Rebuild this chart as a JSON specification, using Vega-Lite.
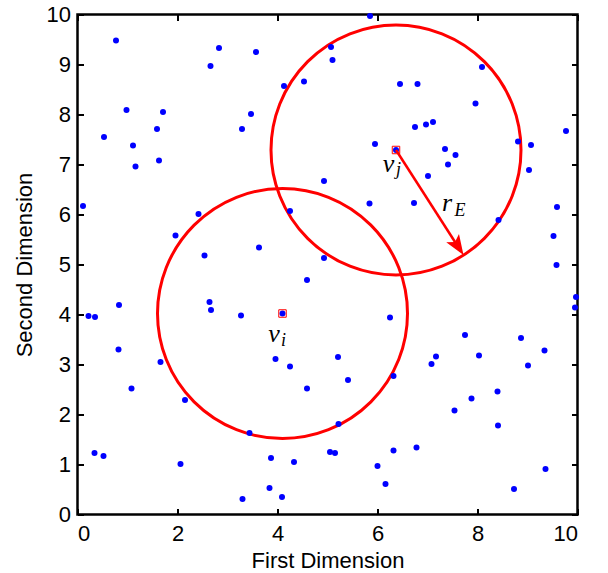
{
  "$schema": "https://vega.github.io/schema/vega-lite/v6.json",
  "width": 500,
  "height": 500,
  "autosize": {"type": "none"},
  "padding": {"left": 77.5, "top": 14.5, "right": 30.5, "bottom": 58.5},
  "background": "white",
  "config": {
    "view": {"stroke": "black", "strokeWidth": 2.5},
    "axis": {
      "domain": false,
      "grid": false,
      "ticks": true,
      "zindex": 2,
      "tickColor": "black",
      "tickOpacity": 1,
      "tickWidth": 2,
      "tickSize": 6,
      "offset": -6,
      "labelFont": "Liberation Sans",
      "labelFontSize": 22,
      "labelColor": "black",
      "titleFont": "Liberation Sans",
      "titleFontSize": 22,
      "titleFontWeight": "normal",
      "titleColor": "black"
    }
  },
  "datasets": {
    "dots": [
      {"x": 0.77, "y": 9.48}, {"x": 2.83, "y": 9.33}, {"x": 3.57, "y": 9.25}, {"x": 2.66, "y": 8.97},
      {"x": 4.13, "y": 8.57}, {"x": 4.53, "y": 8.66}, {"x": 0.98, "y": 8.09}, {"x": 1.71, "y": 8.05},
      {"x": 3.47, "y": 8.01}, {"x": 1.59, "y": 7.71}, {"x": 3.29, "y": 7.71}, {"x": 0.53, "y": 7.55},
      {"x": 1.11, "y": 7.38}, {"x": 1.63, "y": 7.08}, {"x": 1.16, "y": 6.96}, {"x": 0.11, "y": 6.17},
      {"x": 4.93, "y": 6.67}, {"x": 2.42, "y": 6.01}, {"x": 4.25, "y": 6.07}, {"x": 1.96, "y": 5.58},
      {"x": 2.54, "y": 5.18}, {"x": 3.63, "y": 5.34}, {"x": 4.93, "y": 5.13},
      {"x": 5.85, "y": 9.97}, {"x": 5.07, "y": 9.35}, {"x": 5.10, "y": 9.09}, {"x": 8.09, "y": 8.95},
      {"x": 6.45, "y": 8.61}, {"x": 6.80, "y": 8.61}, {"x": 7.96, "y": 8.22}, {"x": 6.75, "y": 7.75},
      {"x": 6.97, "y": 7.80}, {"x": 7.11, "y": 7.85}, {"x": 9.77, "y": 7.67}, {"x": 5.95, "y": 7.41},
      {"x": 6.37, "y": 7.29}, {"x": 7.35, "y": 7.31}, {"x": 7.56, "y": 7.19}, {"x": 7.41, "y": 7.00},
      {"x": 8.81, "y": 7.46}, {"x": 9.07, "y": 7.39}, {"x": 9.03, "y": 6.89}, {"x": 7.01, "y": 6.77},
      {"x": 5.84, "y": 6.22}, {"x": 6.73, "y": 6.23}, {"x": 9.59, "y": 6.15}, {"x": 8.42, "y": 5.89},
      {"x": 9.52, "y": 5.57},
      {"x": 4.59, "y": 4.69}, {"x": 2.64, "y": 4.25}, {"x": 2.67, "y": 4.09}, {"x": 0.83, "y": 4.19},
      {"x": 0.22, "y": 3.97}, {"x": 0.35, "y": 3.95}, {"x": 3.27, "y": 3.98}, {"x": 4.10, "y": 4.02},
      {"x": 0.82, "y": 3.30}, {"x": 1.66, "y": 3.05}, {"x": 3.96, "y": 3.11}, {"x": 4.25, "y": 2.96},
      {"x": 1.08, "y": 2.52}, {"x": 4.59, "y": 2.52}, {"x": 2.15, "y": 2.29}, {"x": 3.44, "y": 1.63},
      {"x": 0.34, "y": 1.23}, {"x": 0.52, "y": 1.17}, {"x": 2.06, "y": 1.01}, {"x": 3.87, "y": 1.13},
      {"x": 4.33, "y": 1.05}, {"x": 3.84, "y": 0.53}, {"x": 3.30, "y": 0.31}, {"x": 4.09, "y": 0.35},
      {"x": 9.58, "y": 4.99}, {"x": 9.97, "y": 4.35}, {"x": 9.95, "y": 4.14}, {"x": 6.25, "y": 3.94},
      {"x": 7.75, "y": 3.59}, {"x": 8.87, "y": 3.53}, {"x": 9.34, "y": 3.28}, {"x": 5.21, "y": 3.15},
      {"x": 7.17, "y": 3.16}, {"x": 8.03, "y": 3.18}, {"x": 7.08, "y": 3.01}, {"x": 9.01, "y": 2.98},
      {"x": 5.41, "y": 2.69}, {"x": 6.32, "y": 2.77}, {"x": 8.40, "y": 2.46}, {"x": 7.88, "y": 2.32},
      {"x": 7.54, "y": 2.08}, {"x": 8.41, "y": 1.78}, {"x": 5.22, "y": 1.81}, {"x": 5.05, "y": 1.25},
      {"x": 5.15, "y": 1.23}, {"x": 6.78, "y": 1.34}, {"x": 6.32, "y": 1.28}, {"x": 6.00, "y": 0.97},
      {"x": 6.16, "y": 0.61}, {"x": 9.36, "y": 0.91}, {"x": 8.73, "y": 0.51}
    ],
    "centers": [
      {"name": "v_i", "x": 4.10, "y": 4.02},
      {"name": "v_j", "x": 6.37, "y": 7.29}
    ],
    "arrow": [
      {"x": 6.37, "y": 7.29},
      {"x": 7.66, "y": 5.28}
    ],
    "tip": [
      {"x": 7.72, "y": 5.19}
    ],
    "mainLetters": [
      {"t": "v", "x": 6.22, "y": 6.85},
      {"t": "v", "x": 3.93, "y": 3.45},
      {"t": "r", "x": 7.39, "y": 6.07}
    ],
    "subLetters": [
      {"t": "j", "x": 6.42, "y": 6.79},
      {"t": "i", "x": 4.12, "y": 3.38},
      {"t": "E", "x": 7.65, "y": 5.98}
    ]
  },
  "resolve": {"axis": {"x": "independent", "y": "independent"}},
  "layer": [
    {
      "data": {"name": "centers"},
      "mark": {"type": "point", "shape": "circle", "size": 62500, "filled": false, "stroke": "#ff0000", "strokeWidth": 3, "opacity": 1},
      "encoding": {
        "x": {"field": "x", "type": "quantitative", "scale": {"domain": [0, 10], "nice": false, "zero": false},
              "axis": {"orient": "top", "labels": false, "title": null, "ticks": true, "values": [0, 2, 4, 6, 8, 10]}},
        "y": {"field": "y", "type": "quantitative", "scale": {"domain": [0, 10], "nice": false, "zero": false},
              "axis": {"orient": "right", "labels": false, "title": null, "ticks": true, "values": [0, 1, 2, 3, 4, 5, 6, 7, 8, 9, 10]}}
      }
    },
    {
      "data": {"name": "dots"},
      "mark": {"type": "circle", "size": 36, "color": "#0000ff", "opacity": 1},
      "encoding": {
        "x": {"field": "x", "type": "quantitative",
              "axis": {"orient": "bottom", "title": "First Dimension", "ticks": true, "values": [0, 2, 4, 6, 8, 10], "labelPadding": 9, "titlePadding": 6}},
        "y": {"field": "y", "type": "quantitative",
              "axis": {"orient": "left", "title": "Second Dimension", "ticks": true, "values": [0, 1, 2, 3, 4, 5, 6, 7, 8, 9, 10], "labelPadding": 7, "titlePadding": 10}}
      }
    },
    {
      "data": {"name": "centers"},
      "mark": {"type": "point", "shape": "square", "size": 56, "filled": false, "stroke": "#ff0000", "strokeWidth": 1, "opacity": 1},
      "encoding": {
        "x": {"field": "x", "type": "quantitative", "axis": null},
        "y": {"field": "y", "type": "quantitative", "axis": null}
      }
    },
    {
      "data": {"name": "arrow"},
      "mark": {"type": "line", "color": "#ff0000", "strokeWidth": 2.5},
      "encoding": {
        "x": {"field": "x", "type": "quantitative", "axis": null},
        "y": {"field": "y", "type": "quantitative", "axis": null}
      }
    },
    {
      "data": {"name": "tip"},
      "mark": {"type": "point", "shape": "M0,0 L-0.38,-1 L0,-0.78 L0.38,-1 Z", "size": 1600, "filled": true, "color": "#ff0000", "opacity": 1, "angle": 327},
      "encoding": {
        "x": {"field": "x", "type": "quantitative", "axis": null},
        "y": {"field": "y", "type": "quantitative", "axis": null}
      }
    },
    {
      "data": {"name": "mainLetters"},
      "mark": {"type": "text", "font": "Liberation Serif", "fontStyle": "italic", "fontSize": 26, "color": "black", "align": "center", "baseline": "alphabetic"},
      "encoding": {
        "x": {"field": "x", "type": "quantitative", "axis": null},
        "y": {"field": "y", "type": "quantitative", "axis": null},
        "text": {"field": "t"}
      }
    },
    {
      "data": {"name": "subLetters"},
      "mark": {"type": "text", "font": "Liberation Serif", "fontStyle": "italic", "fontSize": 18, "color": "black", "align": "center", "baseline": "alphabetic"},
      "encoding": {
        "x": {"field": "x", "type": "quantitative", "axis": null},
        "y": {"field": "y", "type": "quantitative", "axis": null},
        "text": {"field": "t"}
      }
    }
  ]
}
